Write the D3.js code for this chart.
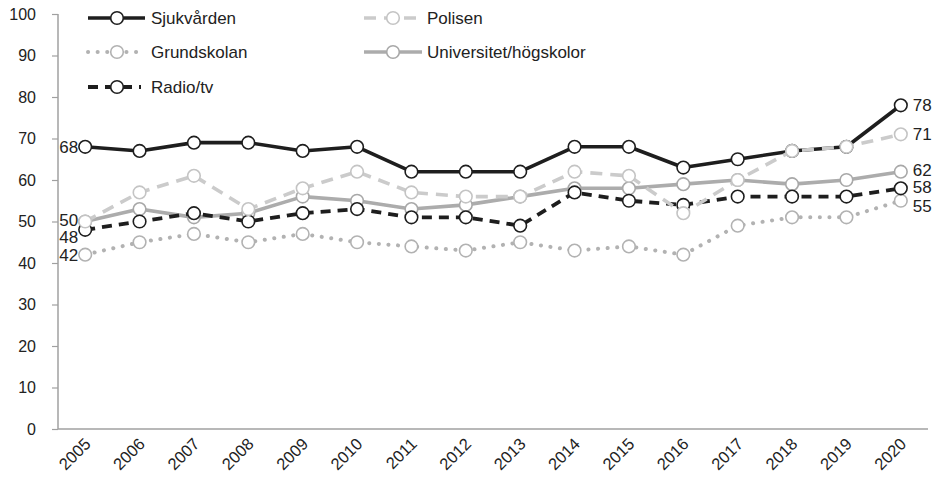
<!DOCTYPE html>
<html><head><meta charset="utf-8">
<script src="https://cdn.jsdelivr.net/npm/d3@7"></script>
<style>body{margin:0;background:#fff}svg{display:block;font-family:"Liberation Sans",Arial,sans-serif}</style>
</head><body><svg id="c" width="939" height="481"></svg>
<script>
const years = ["2005","2006","2007","2008","2009","2010","2011","2012","2013","2014","2015","2016","2017","2018","2019","2020"];
const sjukvarden   = [68,67,69,69,67,68,62,62,62,68,68,63,65,67,68,78];
const polisen      = [50,57,61,53,58,62,57,56,56,62,61,52,60,67,68,71];
const grundskolan  = [42,45,47,45,47,45,44,43,45,43,44,42,49,51,51,55];
const universitet  = [50,53,51,52,56,55,53,54,56,58,58,59,60,59,60,62];
const radiotv      = [48,50,52,50,52,53,51,51,49,57,55,54,56,56,56,58];
const yTicks = [0,10,20,30,40,50,60,70,80,90,100];
const seriesNames = ["Sjukvården","Polisen","Grundskolan","Universitet/högskolor","Radio/tv"];
const startLabels = [68,50,48,42];
const endLabels = [78,71,62,58,55];

const styles = {
  "Sjukvården": {color:"#1e1e1e", width:3.6, dash:null, cap:"butt", mk:"#1e1e1e"},
  "Polisen": {color:"#cbcbcb", width:3.6, dash:"12 8", cap:"butt", mk:"#c4c4c4"},
  "Grundskolan": {color:"#b2b2b2", width:4, dash:"0.1 9.5", cap:"round", mk:"#b2b2b2"},
  "Universitet/högskolor": {color:"#acacac", width:3.6, dash:null, cap:"butt", mk:"#a8a8a8"},
  "Radio/tv": {color:"#1e1e1e", width:3.8, dash:"10 7", cap:"butt", mk:"#1e1e1e"}
};
const data = {
  "Sjukvården": sjukvarden, "Polisen": polisen, "Grundskolan": grundskolan,
  "Universitet/högskolor": universitet, "Radio/tv": radiotv
};
const drawOrder = ["Grundskolan","Universitet/högskolor","Radio/tv","Sjukvården","Polisen"];

const svg = d3.select("#c");
const L = 58, R = 928, T = 14, B = 429;
const x = d3.scalePoint().domain(years).range([L, R]).padding(0.5);
const y = d3.scaleLinear().domain([0,100]).range([B, T]);

// y axis
const ya = svg.append("g").attr("transform",`translate(${L},0)`)
  .call(d3.axisLeft(y).tickValues(yTicks).tickSize(6).tickPadding(16));
ya.select(".domain").attr("stroke","#a0a0a0").attr("stroke-width",1.5).attr("d",`M0,${T}V${B}`);
ya.selectAll(".tick line").attr("stroke","#a0a0a0").attr("stroke-width",1.2);
ya.selectAll(".tick text").attr("font-size",16).attr("fill","#222").attr("font-family","Liberation Sans, Arial, sans-serif");

// x axis
const xa = svg.append("g").attr("transform",`translate(0,${B})`)
  .call(d3.axisBottom(x).tickSize(0).tickPadding(0));
xa.select(".domain").attr("stroke","#a0a0a0").attr("stroke-width",1.5).attr("d",`M${L},0H${R}`);
xa.selectAll(".tick text").attr("font-size",16.5).attr("fill","#222")
  .attr("font-family","Liberation Sans, Arial, sans-serif")
  .attr("text-anchor","end").attr("dy",0)
  .attr("transform","translate(6,16) rotate(-45)");

const line = d3.line().x((d,i)=>x(years[i])).y(d=>y(d));
drawOrder.forEach(name=>{
  const s = styles[name];
  const g = svg.append("g");
  g.append("path").datum(data[name]).attr("d",line).attr("fill","none")
    .attr("stroke",s.color).attr("stroke-width",s.width)
    .attr("stroke-dasharray",s.dash).attr("stroke-linecap",s.cap).attr("stroke-linejoin","round");
  g.selectAll("circle").data(data[name]).join("circle")
    .attr("cx",(d,i)=>x(years[i])).attr("cy",d=>y(d)).attr("r",6.3)
    .attr("fill","#fff").attr("stroke",s.mk).attr("stroke-width",1.6);
});

// data labels
const lbl = svg.append("g").attr("font-size",17).attr("fill","#222");
const startDy = [6, 4, 13, 6];
startLabels.forEach((v,i)=>{
  lbl.append("text").attr("x",x(years[0])-7).attr("y",y(v)+startDy[i]).attr("text-anchor","end").text(v);
});
const endDy = [6,6,4,5,11];
endLabels.forEach((v,i)=>{
  lbl.append("text").attr("x",x(years[years.length-1])+12).attr("y",y(v)+endDy[i]).text(v);
});

// legend
const legendItems = [
  {name:"Sjukvården", x0:88, x1:145, cx:117, tx:151, ly:18},
  {name:"Grundskolan", x0:88, x1:143, cx:117, tx:151, ly:52},
  {name:"Radio/tv", x0:88, x1:141, cx:117, tx:151, ly:87},
  {name:"Polisen", x0:364, x1:417, cx:393, tx:427, ly:18},
  {name:"Universitet/högskolor", x0:364, x1:422, cx:393, tx:427, ly:52}
];
const lg = svg.append("g");
legendItems.forEach(it=>{
  const s = styles[it.name];
  lg.append("line").attr("x1",it.x0).attr("x2",it.x1).attr("y1",it.ly).attr("y2",it.ly)
    .attr("stroke",s.color).attr("stroke-width",s.width).attr("stroke-dasharray",s.dash).attr("stroke-linecap",s.cap);
  lg.append("circle").attr("cx",it.cx).attr("cy",it.ly).attr("r",6.3).attr("fill","#fff")
    .attr("stroke",s.mk).attr("stroke-width",1.6);
  lg.append("text").attr("x",it.tx).attr("y",it.ly+6).attr("font-size",17).attr("fill","#222").text(it.name);
});
</script></body></html>
